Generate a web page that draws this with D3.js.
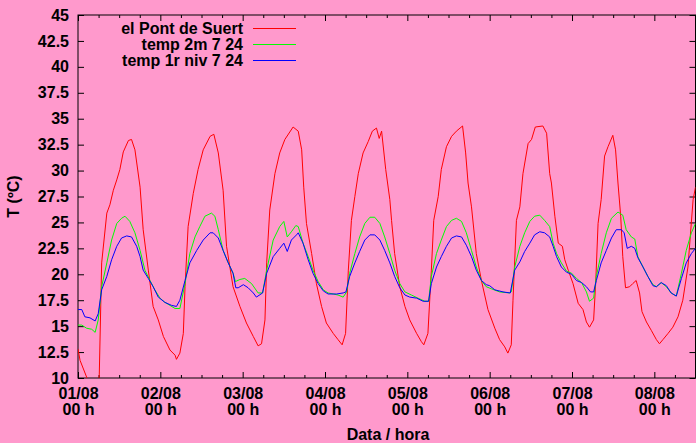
<!DOCTYPE html>
<html><head><meta charset="utf-8">
<script src="https://cdn.jsdelivr.net/npm/d3@7/dist/d3.min.js"></script>
<style>
html,body{margin:0;padding:0;background:#ff99cc;}
svg{display:block;}
text{font-family:"Liberation Sans",Arial,sans-serif;font-weight:bold;fill:#000;}
</style></head>
<body><svg id="c" width="696" height="443"></svg>
<script>
// ---- data (hours since 01/08 00h, temperature °C) ----
const seriesNames = ["el Pont de Suert", "temp 2m 7 24", "temp 1r niv 7 24"];
const seriesColors = ["#ff0000", "#00ff00", "#0000ff"];
const dayLabels = ["01/08","02/08","03/08","04/08","05/08","06/08","07/08","08/08"];
const yTicks = [10,12.5,15,17.5,20,22.5,25,27.5,30,32.5,35,37.5,40,42.5,45];

const redH = [0,0.6,2.5,4.0,5.8,6.2,6.9,8.4,9.3,10.3,11.3,12.2,13.2,14.7,15.6,16.6,18.1,19.0,20.5,21.9,23.4,24.9,26.8,28.3,28.7,29.7,30.7,31.2,32.1,33.6,35.0,36.5,38.5,39.6,40.9,42.3,43.3,45.2,47.2,49.1,51.1,52.5,53.5,54.5,55.0,55.9,57.4,58.8,60.3,62.7,64.2,65.2,65.8,66.6,68.1,69.5,71.0,72.4,74.4,75.8,77.0,78.0,78.8,79.7,80.7,81.7,83.1,84.6,85.8,87.0,87.8,88.5,89.7,90.9,91.4,92.3,93.8,95.3,96.7,98.7,100.1,100.8,102.0,103.0,103.7,105.0,105.9,107.4,108.9,110.3,112.1,113.0,113.7,114.7,116.1,117.6,119.5,121.5,122.9,124.4,125.3,126.3,126.8,127.8,128.8,129.7,131.2,132.2,133.3,135.5,136.6,137.5,138.0,139.0,140.0,141.2,141.9,142.9,144.3,145.8,147.2,148.2,149.1,150.3,150.9,151.6,152.5,153.5,154.5,155.9,156.7,157.4,158.2,158.8,159.6,160.8,161.7,162.7,163.7,164.4,165.7,167.1,168.6,169.5,170.5,172.0,173.4,174.9,176.3,177.8,179.3,180];
const redT = [12.8,11.7,10.1,9.0,9.0,10.3,21.1,25.9,26.7,28.1,29.1,30.1,31.8,32.9,33.0,32.0,28.4,24.3,20.4,16.9,15.6,14.0,12.7,12.2,11.8,12.4,14.3,18.8,24.6,27.8,30.1,32.0,33.3,33.5,31.7,28.1,22.7,18.8,16.9,15.3,14.0,13.1,13.3,15.6,21.1,26.2,29.7,31.7,33.0,34.2,33.8,32.0,28.4,24.9,22.0,19.1,16.9,15.3,14.3,13.7,13.2,14.3,20.4,25.2,27.5,29.7,31.7,32.8,33.8,34.1,33.1,33.8,30.1,27.2,25.2,22.0,18.8,16.9,15.6,14.3,13.5,13.2,14.3,20.4,25.2,27.5,30.1,32.3,33.3,33.8,34.3,31.7,28.8,26.5,22.0,19.4,16.6,14.8,13.7,13.0,12.4,13.2,17.5,25.2,26.5,29.7,32.6,33.0,34.2,34.3,33.6,29.7,28.8,25.6,23.0,22.7,21.4,20.4,19.1,17.2,16.6,15.4,14.9,15.6,19.1,24.9,27.2,31.4,32.3,33.4,32.0,28.8,25.6,21.7,18.7,18.8,19.1,19.4,18.2,16.4,15.4,14.6,13.7,13.3,13.7,14.3,14.9,15.9,17.5,20.7,27.2,28.4];

const greenH = [0,1.1,2.5,4.0,5.0,5.9,6.9,8.4,9.8,11.3,12.7,13.7,15.1,16.6,18.1,19.5,21.0,22.4,23.9,25.3,26.8,28.3,29.7,31.2,32.6,34.1,35.5,37.0,38.9,39.9,40.9,42.3,43.8,45.2,45.9,47.2,48.6,50.6,52.5,53.8,55.0,56.9,58.8,60.0,61.0,62.2,63.5,64.2,65.6,67.1,68.5,70.0,71.5,72.9,74.4,75.8,77.3,78.3,79.2,80.7,82.1,83.6,85.1,86.5,88.0,89.4,90.9,92.3,93.8,95.3,97.2,99.1,101.1,102.2,103.0,104.5,105.9,107.4,108.9,110.3,111.8,113.2,114.7,116.1,117.6,119.0,120.5,122.9,125.8,126.3,127.3,128.8,130.2,131.7,133.1,134.6,136.0,137.5,138.5,139.5,140.9,142.4,143.9,145.3,146.8,148.2,149.1,150.3,151.1,152.5,154.0,155.5,157.4,158.8,159.8,161.3,162.3,163.2,164.7,166.1,167.6,168.6,170.0,171.5,172.9,174.4,175.9,177.3,178.8,180];
const greenT = [15.1,15.1,14.8,14.7,14.4,15.6,18.8,21.1,23.3,24.9,25.4,25.6,25.1,24.0,22.3,20.4,19.4,18.5,17.7,17.3,17.0,16.7,16.7,19.1,22.0,23.6,24.6,25.6,25.9,25.6,24.3,22.3,21.1,20.1,19.3,19.5,19.6,19.1,18.2,18.2,20.4,23.3,24.6,25.1,23.6,24.1,24.7,24.6,23.0,21.7,20.4,19.3,18.5,18.2,18.1,18.0,17.8,18.3,20.1,22.0,23.6,24.9,25.5,25.5,24.9,23.6,22.0,20.4,19.1,18.3,18.0,17.7,17.4,17.4,19.8,22.0,23.3,24.6,25.2,25.4,25.1,24.0,22.3,20.7,19.4,18.8,18.6,18.3,18.2,18.3,20.7,22.7,24.0,25.1,25.6,25.7,25.2,24.6,23.0,22.0,21.1,20.3,20.1,19.6,19.2,18.3,17.4,17.7,19.8,22.0,24.0,25.4,26.0,25.7,24.3,23.6,23.4,21.7,20.7,19.8,19.0,18.8,19.2,18.8,18.2,17.9,20.1,22.3,24.0,24.9];

const blueH = [0,1.1,2.0,3.5,5.0,5.9,6.9,8.4,9.8,11.3,12.7,14.2,15.6,17.1,18.1,19.0,20.5,21.9,23.4,25.3,27.3,28.7,29.7,31.2,32.6,34.6,36.5,38.5,39.4,40.9,42.3,43.8,45.2,46.0,46.7,48.2,49.6,51.1,52.0,53.8,55.0,56.9,58.8,60.0,61.0,62.2,63.7,64.2,65.6,67.1,68.5,70.0,71.5,72.9,75.4,77.3,78.1,79.2,80.7,82.1,83.6,85.1,86.5,88.0,89.4,90.9,92.3,93.8,95.3,96.7,98.7,100.6,102.2,103.0,104.5,105.9,107.4,108.9,110.3,111.8,113.2,114.7,116.1,117.6,119.0,120.0,121.5,123.9,126.0,127.3,128.8,130.2,131.7,133.1,134.6,136.0,137.5,138.5,139.5,140.9,142.4,143.9,145.3,146.8,148.2,149.4,150.3,151.1,152.5,154.0,155.5,156.9,158.4,159.2,160.1,161.3,162.3,163.2,164.7,166.1,167.6,168.6,170.0,171.5,172.9,174.4,175.9,177.3,178.8,180];
const blueT = [16.6,16.6,15.9,15.8,15.5,16.2,18.5,19.8,21.4,22.7,23.5,23.7,23.6,22.7,21.7,20.4,19.6,18.8,17.8,17.3,17.0,16.9,17.5,19.4,21.1,22.3,23.3,24.0,24.0,23.5,22.3,21.1,20.1,18.7,18.7,19.0,18.7,18.2,17.8,18.2,20.1,21.7,22.5,23.0,22.2,23.3,23.8,24.0,23.0,21.4,20.1,19.1,18.4,18.1,18.1,18.2,18.3,19.8,21.1,22.2,23.3,23.8,23.8,23.3,22.3,21.1,19.8,18.7,18.0,17.8,17.7,17.4,17.4,19.1,20.7,21.7,22.7,23.5,23.7,23.6,22.8,21.7,20.4,19.4,19.0,18.9,18.5,18.3,18.2,20.4,21.2,22.2,23.0,23.8,24.1,24.0,23.6,22.7,21.7,20.7,20.2,20.0,19.4,19.2,18.8,18.3,18.3,19.4,21.1,22.3,23.5,24.3,24.3,24.0,22.5,22.7,22.5,21.6,20.7,19.8,18.9,18.8,19.2,18.9,18.2,17.9,19.6,21.1,22.0,22.5];

// ---- layout ----
const W = 696, H = 443;
const m = {left: 78, top: 15, right: 0.5, bottom: 65};
const pw = W - m.left - m.right, ph = H - m.top - m.bottom;
const svg = d3.select("#c");
const x = d3.scaleLinear().domain([0, 180]).range([m.left, m.left + pw]);
const y = d3.scaleLinear().domain([10, 45]).range([m.top + ph, m.top]);

svg.append("rect").attr("width", W).attr("height", H).attr("fill", "#ff99cc");

svg.append("defs").append("clipPath").attr("id", "clip")
  .append("rect").attr("x", m.left).attr("y", m.top).attr("width", pw).attr("height", ph);

const majorX = d3.range(0, 181, 24);
const minorX = d3.range(0, 181, 6).filter(h => h % 24 !== 0);

function styleAxis(g){ g.select(".domain").remove(); g.selectAll("line").attr("stroke","#000"); }

// bottom axis (major with labels)
const xb = svg.append("g").attr("transform", `translate(0,${m.top+ph})`)
  .call(d3.axisBottom(x).tickValues(majorX).tickSizeInner(-6).tickSizeOuter(0).tickPadding(8)
    .tickFormat((d,i) => dayLabels[i]));
styleAxis(xb);
xb.selectAll("text").attr("font-size", 16).each(function(d,i){
  const t = d3.select(this); const lab = dayLabels[i];
  t.text(null);
  t.append("tspan").attr("x", 0).attr("dy", "0.71em").attr("y", 10).text(lab);
  t.append("tspan").attr("x", 0).attr("y", 26).attr("dy", "0.71em").text("00 h");
});
svg.append("g").attr("transform", `translate(0,${m.top+ph})`)
  .call(d3.axisBottom(x).tickValues(minorX).tickSizeInner(-3).tickSizeOuter(0).tickFormat(""))
  .call(styleAxis);
// top axis mirror
svg.append("g").attr("transform", `translate(0,${m.top})`)
  .call(d3.axisTop(x).tickValues(majorX).tickSizeInner(-6).tickSizeOuter(0).tickFormat(""))
  .call(styleAxis);
svg.append("g").attr("transform", `translate(0,${m.top})`)
  .call(d3.axisTop(x).tickValues(minorX).tickSizeInner(-3).tickSizeOuter(0).tickFormat(""))
  .call(styleAxis);

// left axis
const yl = svg.append("g").attr("transform", `translate(${m.left},0)`)
  .call(d3.axisLeft(y).tickValues(yTicks).tickSizeInner(-6).tickSizeOuter(0).tickPadding(9)
    .tickFormat(d => String(d)));
styleAxis(yl);
yl.selectAll("text").attr("font-size", 16);
// right axis mirror
svg.append("g").attr("transform", `translate(${m.left+pw},0)`)
  .call(d3.axisRight(y).tickValues(yTicks).tickSizeInner(-6).tickSizeOuter(0).tickFormat(""))
  .call(styleAxis);

// border
svg.append("rect").attr("x", m.left).attr("y", m.top).attr("width", pw).attr("height", ph)
  .attr("fill", "none").attr("stroke", "#000").attr("stroke-width", 1);

// lines
const series = [
  {h: redH, t: redT}, {h: greenH, t: greenT}, {h: blueH, t: blueT}
];
const line = d3.line().x(d => x(d[0])).y(d => y(d[1]));
const lg = svg.append("g").attr("clip-path", "url(#clip)");
series.forEach((s, i) => {
  const pts = s.h.map((h, k) => [h, s.t[k]]);
  lg.append("path").datum(pts).attr("d", line)
    .attr("fill", "none").attr("stroke", seriesColors[i]).attr("stroke-width", 1);
});

// legend
const legY = [28.5, 44.5, 60.5];
seriesNames.forEach((n, i) => {
  svg.append("text").attr("x", 243).attr("y", legY[i]).attr("dy", "0.35em")
    .attr("text-anchor", "end").attr("font-size", 16).text(n);
  svg.append("line").attr("x1", 253).attr("x2", 296).attr("y1", legY[i]).attr("y2", legY[i])
    .attr("stroke", seriesColors[i]).attr("stroke-width", 1);
});

// axis titles
svg.append("text").attr("transform", `translate(19,${m.top+ph/2}) rotate(-90)`)
  .attr("text-anchor", "middle").attr("font-size", 16).text("T (ºC)");
svg.append("text").attr("x", 388).attr("y", 440).attr("text-anchor", "middle")
  .attr("font-size", 16).text("Data / hora");
</script></body></html>
